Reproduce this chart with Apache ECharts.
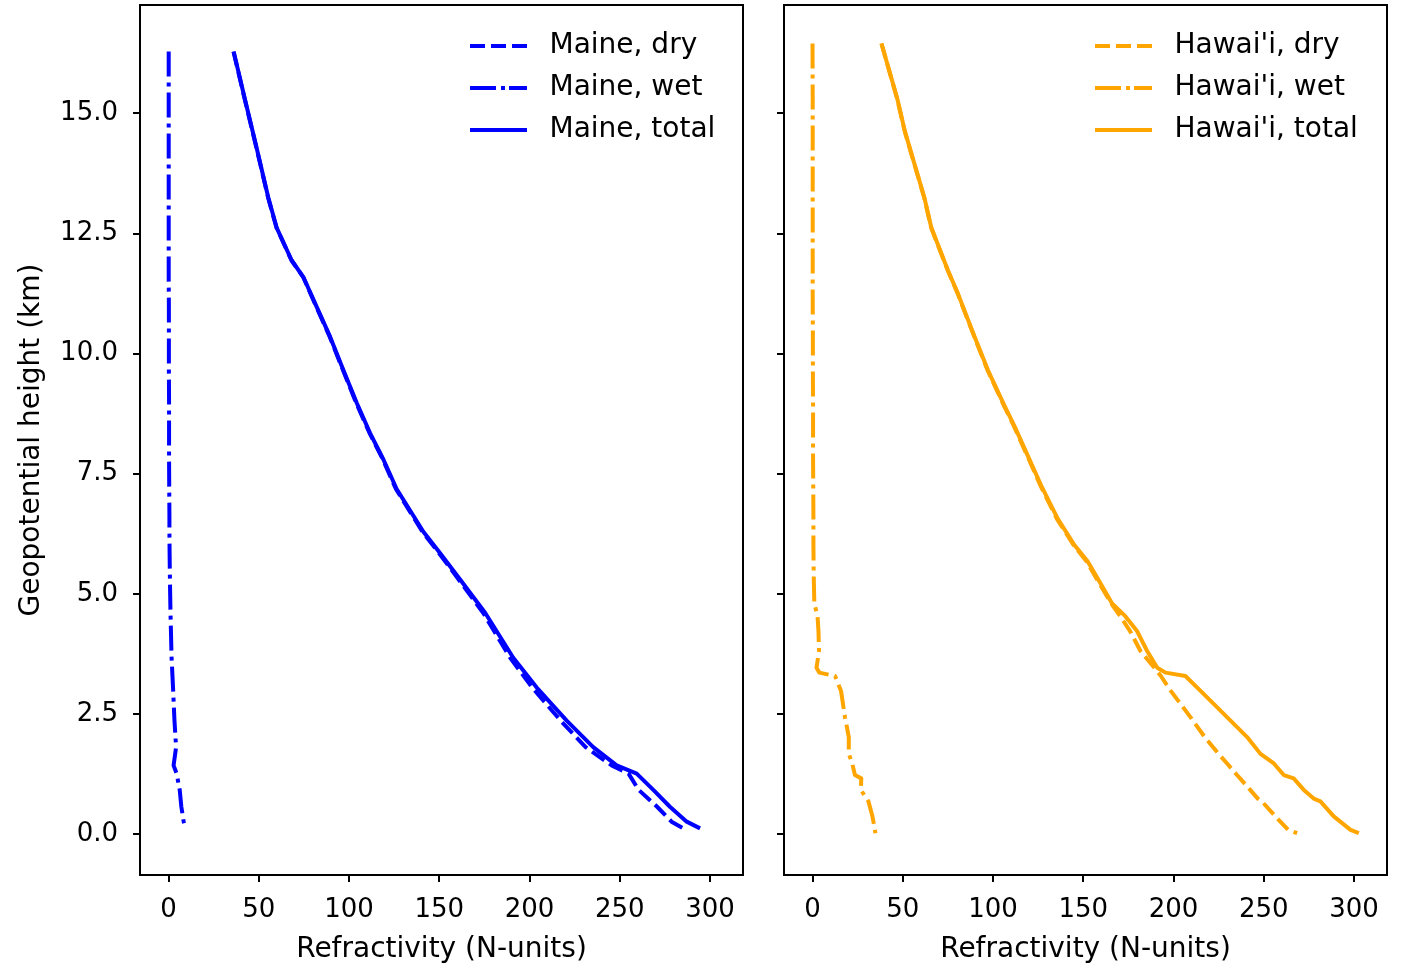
<!DOCTYPE html>
<html><head><meta charset="utf-8">
<script src="https://cdn.jsdelivr.net/npm/echarts@6/dist/echarts.min.js"></script>
<style>html,body{margin:0;padding:0;background:#fff}#c{width:1404px;height:969px}</style>
</head><body><div id="c"></div>
<script>
// ---- Data ----
const xTicks = [0, 50, 100, 150, 200, 250, 300];
const yTicks = [0, 2.5, 5, 7.5, 10, 12.5, 15];

const maineHeight = [16.28, 15.31, 14.28, 13.24, 12.62, 11.94, 11.59, 10.97, 10.35, 9.66, 8.97, 8.35, 7.80, 7.18, 6.63, 6.29, 5.85, 5.25, 4.60, 3.67, 3.05, 2.36, 1.81, 1.43, 1.26, 0.92, 0.57, 0.26, 0.12];
const maineDry    = [36.0, 42.1, 48.7, 55.2, 59.8, 68.1, 74.6, 81.9, 89.3, 96.6, 104.0, 111.3, 118.7, 126.0, 135.1, 140.7, 149.8, 161.7, 174.4, 189.3, 201.5, 217.3, 231.1, 245.5, 254.9, 260.5, 270.7, 278.7, 285.2];
const maineWet    = [0.1, 0.1, 0.1, 0.1, 0.1, 0.1, 0.1, 0.2, 0.2, 0.2, 0.3, 0.3, 0.3, 0.4, 0.5, 0.5, 0.6, 0.8, 1.1, 1.7, 2.5, 3.3, 4.2, 2.8, 4.5, 6.2, 7.1, 8.4, 9.3];
const maineTotal  = [36.1, 42.2, 48.8, 55.3, 59.9, 68.2, 74.7, 82.1, 89.5, 96.8, 104.3, 111.6, 119.0, 126.4, 135.6, 141.2, 150.4, 162.5, 175.5, 191.0, 204.0, 220.6, 235.3, 248.3, 259.4, 268.6, 277.8, 287.1, 294.5];

const hawaiiHeight = [16.45, 15.31, 14.62, 13.93, 13.24, 12.62, 11.73, 11.25, 10.35, 9.66, 8.91, 8.49, 7.87, 7.25, 6.56, 6.01, 5.67, 5.32, 4.80, 4.53, 4.22, 3.81, 3.46, 3.36, 3.29, 2.98, 2.43, 2.02, 1.67, 1.47, 1.23, 1.16, 0.92, 0.74, 0.68, 0.37, 0.09, 0.02];
const hawaiiDry    = [38.2, 46.8, 51.1, 56.5, 61.9, 65.7, 74.9, 80.4, 89.6, 96.9, 106.1, 111.6, 119.0, 126.3, 135.4, 144.7, 151.9, 157.3, 165.5, 170.6, 176.0, 181.7, 189.4, 191.5, 193.0, 198.5, 209.5, 217.3, 225.0, 229.7, 235.2, 236.9, 242.5, 246.7, 249.0, 256.5, 263.5, 268.5];
const hawaiiWet    = [0.0, 0.1, 0.1, 0.1, 0.1, 0.1, 0.1, 0.1, 0.2, 0.2, 0.3, 0.3, 0.3, 0.4, 0.5, 0.5, 0.6, 0.7, 1.0, 2.8, 3.3, 3.6, 2.2, 3.8, 12.5, 15.8, 18.0, 20.1, 20.1, 22.0, 23.5, 27.0, 26.8, 30.0, 31.0, 33.2, 34.6, 34.8];
const hawaiiTotal  = [38.2, 46.9, 51.2, 56.6, 62.0, 65.8, 75.0, 80.5, 89.8, 97.1, 106.4, 111.9, 119.3, 126.7, 135.9, 145.2, 152.5, 158.0, 166.0, 173.4, 179.9, 185.4, 191.0, 195.6, 206.6, 215.0, 229.8, 240.8, 248.2, 255.6, 261.1, 266.6, 272.2, 277.7, 281.4, 288.8, 298.1, 302.7];

const names = ['Maine, dry', 'Maine, wet', 'Maine, total', "Hawai'i, dry", "Hawai'i, wet", "Hawai'i, total"];

// ---- Chart ----
const FONT = 'DejaVu Sans';
const BLUE = '#0000ff', ORANGE = '#ffa500';
const DASH = [15, 6], DASHDOT = [25, 6, 4, 6];
const ICON_DASH = 'path://M0,0H15V4H0Z M21,0H36V4H21Z M42,0H57V4H42Z';
const ICON_DASHDOT = 'path://M0,0H26V4H0Z M31,0H35V4H31Z M39,0H57V4H39Z';
const ICON_SOLID = 'path://M0,0H57V4H0Z';

function pairs(xs, hs) { return xs.map((v, i) => [v, hs[i]]); }

function xAxisFor(idx) {
  return {
    gridIndex: idx, type: 'value', min: -15.8, max: 318.3,
    splitLine: { show: false },
    axisLine: { show: true, onZero: false, lineStyle: { color: '#000', width: 2 } },
    axisTick: { show: true, length: 7, lineStyle: { color: '#000', width: 2 }, customValues: xTicks },
    axisLabel: { show: true, customValues: xTicks, color: '#000', fontFamily: FONT, fontSize: 26, margin: 22 },
    name: 'Refractivity (N-units)', nameLocation: 'middle', nameGap: 61,
    nameTextStyle: { color: '#000', fontFamily: FONT, fontSize: 28 }
  };
}
function yAxisFor(idx, labels) {
  const ax = {
    gridIndex: idx, type: 'value', min: -0.85, max: 17.25,
    splitLine: { show: false },
    axisLine: { show: true, onZero: false, lineStyle: { color: '#000', width: 2 } },
    axisTick: { show: true, length: 7, lineStyle: { color: '#000', width: 2 }, customValues: yTicks },
    axisLabel: { show: labels, customValues: yTicks, color: '#000', fontFamily: FONT, fontSize: 26, margin: 22,
      formatter: v => Number(v).toFixed(1) }
  };
  if (labels) {
    ax.name = 'Geopotential height (km)';
    ax.nameLocation = 'middle';
    ax.nameGap = 94;
    ax.nameTextStyle = { color: '#000', fontFamily: FONT, fontSize: 28 };
  }
  return ax;
}
function line(name, color, type, xs, hs, idx) {
  return {
    name, type: 'line', xAxisIndex: idx, yAxisIndex: idx, data: pairs(xs, hs),
    symbol: 'none', showSymbol: false, smooth: false, animation: false, clip: true,
    lineStyle: { color, width: 4, type, cap: 'butt', join: 'round' }, itemStyle: { color }
  };
}
function legendFor(left, labels) {
  const icons = [ICON_DASH, ICON_DASHDOT, ICON_SOLID];
  return {
    orient: 'vertical', left, top: 26, itemWidth: 58, itemHeight: 4, itemGap: 12,
    data: labels.map((n, i) => ({ name: n, icon: icons[i] })),
    textStyle: { color: '#000', fontFamily: FONT, fontSize: 28, lineHeight: 30, padding: [0, 0, 0, 17] },
    selectedMode: false
  };
}

const chart = echarts.init(document.getElementById('c'), null, { renderer: 'canvas' });
chart.setOption({
  animation: false,
  backgroundColor: '#fff',
  grid: [
    { left: 140, top: 5, width: 603, height: 877, show: true, borderColor: '#000', borderWidth: 2, backgroundColor: 'transparent' },
    { left: 784, top: 5, width: 603, height: 877, show: true, borderColor: '#000', borderWidth: 2, backgroundColor: 'transparent' }
  ],
  xAxis: [xAxisFor(0), xAxisFor(1)],
  yAxis: [yAxisFor(0, true), yAxisFor(1, false)],
  legend: [
    legendFor(465, names.slice(0, 3)),
    legendFor(1090, names.slice(3))
  ],
  series: [
    line(names[0], BLUE, DASH, maineDry, maineHeight, 0),
    line(names[1], BLUE, DASHDOT, maineWet, maineHeight, 0),
    line(names[2], BLUE, 'solid', maineTotal, maineHeight, 0),
    line(names[3], ORANGE, DASH, hawaiiDry, hawaiiHeight, 1),
    line(names[4], ORANGE, DASHDOT, hawaiiWet, hawaiiHeight, 1),
    line(names[5], ORANGE, 'solid', hawaiiTotal, hawaiiHeight, 1)
  ]
});
</script></body></html>
